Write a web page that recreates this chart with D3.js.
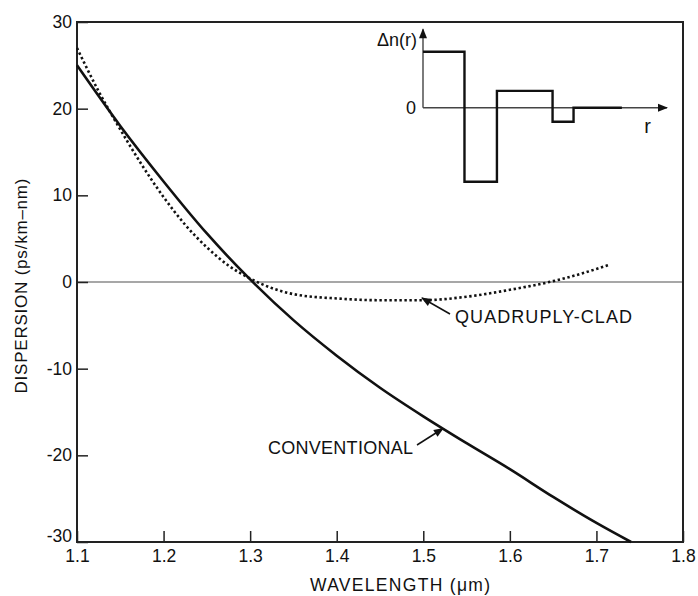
<!DOCTYPE html>
<html>
<head>
  <title>Dispersion</title>
  <script src="https://d3js.org/d3.v7.min.js"></script>
  <style>
    body { margin: 0; background: #fff; }
    text { font-family: "Liberation Sans", Arial, sans-serif; fill: #111; }
  </style>
</head>
<body>
  <svg id="chart" width="698" height="596"></svg>

  <script>
    // conventional fibre
    const convLambda = [1.10, 1.15, 1.20, 1.25, 1.30, 1.35, 1.40, 1.45, 1.50, 1.55, 1.60, 1.65, 1.70, 1.74];
    const convDisp   = [25.0, 18.0, 11.6, 5.6, 0.3, -4.4, -8.5, -12.2, -15.5, -18.6, -21.6, -24.8, -27.8, -30.0];

    // quadruply-clad fibre
    const quadLambda = [1.10, 1.125, 1.15, 1.175, 1.20, 1.225, 1.25, 1.275, 1.30, 1.35, 1.40, 1.45, 1.50, 1.55, 1.60, 1.65, 1.70, 1.715];
    const quadDisp   = [27.0, 22.0, 17.6, 13.5, 9.8, 6.6, 4.0, 1.9, 0.4, -1.4, -1.9, -2.1, -2.1, -1.7, -0.9, 0.1, 1.5, 2.0];

    const xTicks = [1.1, 1.2, 1.3, 1.4, 1.5, 1.6, 1.7, 1.8];
    const yTicks = [30, 20, 10, 0, -10, -20, -30];

    // inset index profile: step edges (r) and delta-n of each step
    const profileEdges = [0, 1.7, 3.03, 5.31, 6.17, 8.15];
    const profileDn    = [1.0, -1.32, 0.30, -0.25, 0.0];

    const svg = d3.select("#chart");

    const x = d3.scaleLinear().domain([1.1, 1.8]).range([77, 683]);
    const y = d3.scaleLinear().domain([-30, 30]).range([542, 22]);

    // zero line
    svg.append("line")
      .attr("x1", x(1.1)).attr("x2", x(1.8))
      .attr("y1", y(0)).attr("y2", y(0))
      .attr("stroke", "#8a8a8a").attr("stroke-width", 1.6);

    // axes with inward ticks
    const xAxis = svg.append("g")
      .attr("transform", `translate(0,${y(-30)})`)
      .call(d3.axisBottom(x).tickValues(xTicks).tickSize(-11).tickPadding(8)
        .tickFormat(d3.format(".1f")));
    const yAxis = svg.append("g")
      .attr("transform", `translate(${x(1.1)},0)`)
      .call(d3.axisLeft(y).tickValues(yTicks).tickSize(-11).tickPadding(5)
        .tickFormat(d => d));

    [xAxis, yAxis].forEach(g => {
      g.select(".domain").remove();
      g.selectAll(".tick line").attr("stroke", "#222").attr("stroke-width", 1.5);
      g.selectAll(".tick text").attr("font-size", 17.5).attr("fill", "#111")
        .style("font-family", "'Liberation Sans', Arial, sans-serif");
    });
    yAxis.selectAll(".tick").filter(d => d === -30).select("text").attr("dy", "-0.05em");

    // frame
    svg.append("rect")
      .attr("x", x(1.1)).attr("y", y(30))
      .attr("width", x(1.8) - x(1.1)).attr("height", y(-30) - y(30))
      .attr("fill", "none").attr("stroke", "#222").attr("stroke-width", 2);

    const line = d3.line()
      .x(d => x(d[0]))
      .y(d => y(d[1]))
      .curve(d3.curveMonotoneX);

    svg.append("path")
      .datum(d3.zip(convLambda, convDisp))
      .attr("fill", "none").attr("stroke", "#111").attr("stroke-width", 2.6)
      .attr("d", line);

    svg.append("path")
      .datum(d3.zip(quadLambda, quadDisp))
      .attr("fill", "none").attr("stroke", "#111").attr("stroke-width", 2.6)
      .attr("stroke-dasharray", "2.4,2.6")
      .attr("d", line);

    // arrowheads
    const defs = svg.append("defs");
    defs.append("marker")
      .attr("id", "arrBig").attr("viewBox", "0 0 10 10")
      .attr("refX", 9).attr("refY", 5)
      .attr("markerWidth", 12).attr("markerHeight", 10)
      .attr("markerUnits", "userSpaceOnUse")
      .attr("orient", "auto")
      .append("path").attr("d", "M0,1 L10,5 L0,9 Z").attr("fill", "#111");

    // curve labels
    svg.append("text").attr("x", 268).attr("y", 454)
      .attr("font-size", 18).attr("textLength", 145).text("CONVENTIONAL");
    svg.append("line")
      .attr("x1", 417).attr("y1", 445).attr("x2", 443).attr("y2", 428.5)
      .attr("stroke", "#111").attr("stroke-width", 1.5).attr("marker-end", "url(#arrBig)");

    svg.append("text").attr("x", 455).attr("y", 323)
      .attr("font-size", 18).attr("textLength", 177).text("QUADRUPLY-CLAD");
    svg.append("line")
      .attr("x1", 450).attr("y1", 314).attr("x2", 422).attr("y2", 298)
      .attr("stroke", "#111").attr("stroke-width", 1.5).attr("marker-end", "url(#arrBig)");

    // axis titles
    svg.append("text")
      .attr("transform", `translate(27,${(y(30) + y(-30)) / 2 + 4}) rotate(-90)`)
      .attr("text-anchor", "middle").attr("font-size", 17)
      .attr("textLength", 215)
      .text("DISPERSION (ps/km\u2013nm)");
    svg.append("text")
      .attr("x", 400).attr("y", 591)
      .attr("text-anchor", "middle").attr("font-size", 17.5)
      .attr("textLength", 180)
      .text("WAVELENGTH (\u03bcm)");

    // inset: refractive index profile
    const rx = d3.scaleLinear().domain([0, 10]).range([423, 667]);
    const ry = d3.scaleLinear().domain([-1.32, 1.0]).range([181.7, 51.7]);

    svg.append("line")
      .attr("x1", rx(0)).attr("y1", ry(0)).attr("x2", rx(10)).attr("y2", ry(0))
      .attr("stroke", "#444").attr("stroke-width", 1.4).attr("marker-end", "url(#arrBig)");
    svg.append("line")
      .attr("x1", rx(0)).attr("y1", ry(0)).attr("x2", rx(0)).attr("y2", ry(1.4))
      .attr("stroke", "#444").attr("stroke-width", 1.4).attr("marker-end", "url(#arrBig)");

    const steps = [];
    profileDn.forEach((dn, i) => {
      steps.push([profileEdges[i], dn]);
      steps.push([profileEdges[i + 1], dn]);
    });
    svg.append("path")
      .datum(steps)
      .attr("fill", "none").attr("stroke", "#111").attr("stroke-width", 2.4)
      .attr("d", d3.line().x(d => rx(d[0])).y(d => ry(d[1])));

    svg.append("text").attr("x", rx(0) - 6).attr("y", ry(1.0) - 6)
      .attr("text-anchor", "end").attr("font-size", 18).text("\u0394n(r)");
    svg.append("text").attr("x", rx(0) - 7).attr("y", ry(0) + 6)
      .attr("text-anchor", "end").attr("font-size", 18).text("0");
    svg.append("text").attr("x", rx(9.2)).attr("y", ry(0) + 25)
      .attr("text-anchor", "middle").attr("font-size", 20).text("r");
  </script>
</body>
</html>
